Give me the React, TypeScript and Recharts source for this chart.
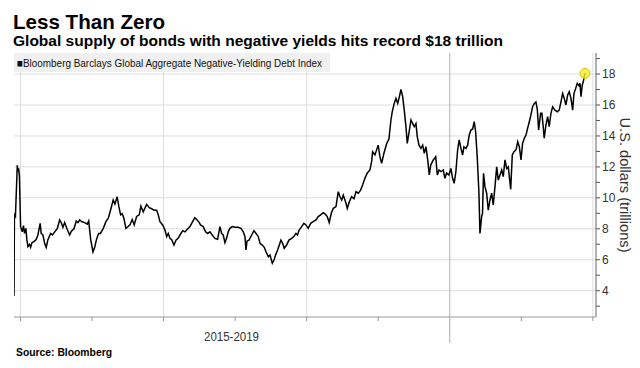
import React from "react";
import { LineChart, Line, XAxis, YAxis, ReferenceLine, ReferenceDot } from "recharts";

// Time as fractional years, values in US$ trillions
const years = [
  2016.955, 2016.958, 2016.965, 2016.978, 2016.983, 2016.987, 2016.993, 2017.001, 2017.013, 2017.021,
  2017.029, 2017.038, 2017.045, 2017.052, 2017.063, 2017.071, 2017.080, 2017.094, 2017.110, 2017.122,
  2017.138, 2017.145, 2017.157, 2017.169, 2017.180, 2017.192, 2017.211, 2017.224, 2017.239, 2017.257,
  2017.274, 2017.285, 2017.297, 2017.309, 2017.325, 2017.344, 2017.356, 2017.374, 2017.390, 2017.402,
  2017.414, 2017.430, 2017.449, 2017.467, 2017.477, 2017.491, 2017.507, 2017.519, 2017.531, 2017.546,
  2017.559, 2017.579, 2017.597, 2017.614, 2017.630, 2017.648, 2017.660, 2017.676, 2017.688, 2017.700,
  2017.711, 2017.723, 2017.737, 2017.753, 2017.765, 2017.781, 2017.795, 2017.812, 2017.830, 2017.842,
  2017.858, 2017.882, 2017.900, 2017.917, 2017.933, 2017.952, 2017.963, 2017.975, 2017.994, 2018.010,
  2018.022, 2018.033, 2018.045, 2018.057, 2018.073, 2018.087, 2018.103, 2018.115, 2018.134, 2018.150,
  2018.166, 2018.185, 2018.203, 2018.219, 2018.231, 2018.250, 2018.258, 2018.277, 2018.294, 2018.308,
  2018.324, 2018.340, 2018.359, 2018.378, 2018.394, 2018.406, 2018.417, 2018.429, 2018.441, 2018.452,
  2018.464, 2018.480, 2018.499, 2018.522, 2018.541, 2018.557, 2018.569, 2018.576, 2018.583, 2018.597,
  2018.616, 2018.632, 2018.646, 2018.662, 2018.674, 2018.690, 2018.704, 2018.716, 2018.732, 2018.744,
  2018.760, 2018.772, 2018.783, 2018.797, 2018.809, 2018.820, 2018.832, 2018.843, 2018.860, 2018.876,
  2018.895, 2018.913, 2018.925, 2018.936, 2018.948, 2018.965, 2018.981, 2018.995, 2019.011, 2019.028,
  2019.046, 2019.065, 2019.081, 2019.098, 2019.116, 2019.130, 2019.144, 2019.158, 2019.172, 2019.186,
  2019.205, 2019.221, 2019.233, 2019.245, 2019.256, 2019.275, 2019.284, 2019.298, 2019.314, 2019.331,
  2019.345, 2019.361, 2019.377, 2019.391, 2019.407, 2019.423, 2019.442, 2019.454, 2019.461, 2019.477,
  2019.489, 2019.500, 2019.512, 2019.524, 2019.540, 2019.559, 2019.575, 2019.589, 2019.598, 2019.612,
  2019.624, 2019.636, 2019.647, 2019.659, 2019.671, 2019.682, 2019.694, 2019.703, 2019.715, 2019.729,
  2019.741, 2019.752, 2019.764, 2019.773, 2019.785, 2019.799, 2019.811, 2019.822, 2019.834, 2019.846,
  2019.857, 2019.867, 2019.885, 2019.902, 2019.913, 2019.925, 2019.939, 2019.955, 2019.966, 2019.978,
  2019.994, 2020.008, 2020.020, 2020.031, 2020.043, 2020.055, 2020.066, 2020.078, 2020.090, 2020.099,
  2020.113, 2020.125, 2020.136, 2020.148, 2020.160, 2020.171, 2020.181, 2020.192, 2020.204, 2020.211,
  2020.223, 2020.229, 2020.236, 2020.246, 2020.258, 2020.269, 2020.281, 2020.293, 2020.304, 2020.316,
  2020.328, 2020.339, 2020.351, 2020.363, 2020.374, 2020.386, 2020.398, 2020.409, 2020.426, 2020.437,
  2020.449, 2020.463, 2020.475, 2020.486, 2020.498, 2020.509, 2020.521, 2020.533, 2020.544, 2020.556,
  2020.567, 2020.579, 2020.591, 2020.602, 2020.612, 2020.621, 2020.635, 2020.644, 2020.653, 2020.660,
  2020.672, 2020.684, 2020.695, 2020.707, 2020.719, 2020.735, 2020.751, 2020.765, 2020.777, 2020.789,
  2020.800, 2020.812, 2020.824, 2020.835, 2020.847, 2020.859, 2020.868, 2020.880, 2020.891, 2020.903,
  2020.910, 2020.917, 2020.926, 2020.933, 2020.945,
];

const values = [
  3.66, 8.9, 8.8, 12.1, 11.7, 11.9, 11.4, 8.14, 7.8, 8.2,
  7.7, 8.03, 7.3, 6.85, 7.0, 6.8, 7.1, 7.17, 7.3, 7.6,
  8.35, 7.7, 7.6, 7.06, 6.8, 7.3, 7.7, 7.6, 7.8, 8.0,
  8.57, 8.4, 8.1, 8.4, 8.0, 7.6, 7.85, 8.0, 8.5, 8.4,
  8.57, 8.45, 8.4, 8.3, 8.5, 7.3, 6.5, 6.8, 7.3, 7.7,
  7.7, 8.03, 8.46, 8.68, 9.21, 9.86, 9.6, 10.07, 9.43, 8.9,
  8.97, 8.68, 8.03, 8.15, 8.25, 8.6, 8.25, 8.8, 8.9, 9.47,
  9.1, 9.58, 9.36, 9.3, 9.2, 9.2, 8.9, 8.46, 8.25, 7.92,
  7.49, 7.7, 7.38, 7.3, 6.95, 7.27, 7.4, 7.6, 7.88, 7.8,
  7.97, 8.14, 8.46, 8.72, 8.6, 8.4, 8.25, 8.14, 7.81, 7.7,
  7.8, 7.6, 7.38, 7.32, 8.14, 7.7, 7.6, 7.1, 7.4, 7.81,
  8.03, 8.14, 8.1, 8.1, 8.03, 7.81, 7.49, 6.63, 7.2, 7.27,
  7.6, 7.88, 7.7, 7.5, 7.06, 6.95, 6.8, 6.52, 6.2, 6.3,
  5.77, 5.98, 6.3, 6.63, 6.95, 7.27, 7.06, 6.74, 6.95, 7.27,
  7.38, 7.53, 7.7, 7.6, 7.92, 8.14, 8.35, 8.25, 8.03, 8.35,
  8.46, 8.57, 8.79, 8.9, 9.04, 8.95, 8.79, 8.4, 9.0, 9.32,
  9.43, 10.4, 10.07, 9.86, 10.18, 9.65, 9.32, 9.75, 10.07, 9.95,
  10.4, 10.3, 10.5, 10.83, 11.26, 11.59, 11.8, 12.34, 12.98, 12.77,
  13.1, 13.4, 12.66, 12.23, 12.88, 13.5, 13.8, 15.03, 15.56, 16.1,
  16.43, 16.1, 16.5, 17.0, 16.54, 15.67, 14.6, 13.52, 14.2, 15.03,
  14.8, 14.6, 14.8, 13.95, 13.4, 13.2, 13.4, 12.88, 13.3, 12.45,
  11.48, 12.12, 12.45, 12.66, 11.48, 11.8, 11.7, 11.8, 11.26, 11.6,
  11.48, 11.9, 11.26, 10.94, 11.7, 13.09, 13.74, 13.2, 12.77, 13.3,
  13.2, 13.4, 14.06, 14.38, 14.45, 14.92, 14.27, 12.66, 10.3, 7.7,
  8.8, 9.0, 11.59, 10.72, 10.3, 9.21, 9.86, 10.3, 9.54, 10.72,
  12.0, 11.15, 11.48, 11.8, 11.37, 12.45, 11.9, 12.0, 10.55, 12.77,
  12.98, 13.1, 13.63, 13.3, 12.45, 13.52, 13.85, 14.06, 14.49, 14.92,
  15.35, 15.89, 16.1, 16.2, 15.7, 14.38, 15.46, 15.46, 14.6, 13.85,
  14.7, 15.25, 14.6, 15.46, 15.89, 15.67, 15.56, 15.67, 16.2, 16.75,
  16.43, 16.0, 16.65, 16.86, 16.43, 15.67, 16.75, 17.07, 17.4, 17.25,
  17.4, 16.54, 17.3, 17.5, 18.04,
];

const xTicks = [
  2017, 2017.25, 2017.5, 2017.75, 2018, 2018.25, 2018.5, 2018.75, 2019, 2019.25, 2019.5, 2019.75,
  2020, 2020.25, 2020.5, 2020.75, 2021,
];
const yearGrid = [2017, 2018, 2019, 2021];
const yearDivider = 2020;
const yTicks = [3, 4, 5, 6, 7, 8, 9, 10, 11, 12, 13, 14, 15, 16, 17, 18, 19];
const yGrid = [4, 6, 8, 10, 12, 14, 16, 18];

const title = "Less Than Zero";
const subtitle = "Global supply of bonds with negative yields hits record $18 trillion";
const legendLabel = "Bloomberg Barclays Global Aggregate Negative-Yielding Debt Index";
const periodLabel = "2015-2019";
const axisLabel = "U.S. dollars (trillions)";
const source = "Source:  Bloomberg";

const data = years.map((t, i) => ({ t, v: values[i] }));
const last = data[data.length - 1];

const FONT = "'Liberation Sans', Arial, sans-serif";

const XTick = (props: any) => {
  const { x, y, payload } = props;
  const long = payload.value === yearDivider;
  return (
    <line x1={x} x2={x} y1={y} y2={y + (long ? 26 : 4)} stroke={long ? "#aaaaaa" : "#999999"} strokeWidth={1} />
  );
};

export default function App() {
  return (
    <div style={{ position: "absolute", left: 0, top: 0, width: 640, height: 368, background: "#fff" }}>
      <LineChart
        width={640}
        height={368}
        data={data}
        margin={{ top: 53, right: 0, bottom: 21, left: 14 }}
      >
        {yGrid.map((g) => (
          <ReferenceLine key={"h" + g} y={g} stroke="#dedede" strokeWidth={1} />
        ))}
        {yearGrid.map((g) => (
          <ReferenceLine key={"v" + g} x={g} stroke="#dedede" strokeWidth={1} />
        ))}
        <ReferenceLine x={yearDivider} stroke="#b0b0b0" />
        <XAxis
          dataKey="t"
          type="number"
          domain={[2016.955, 2021.022]}
          ticks={xTicks}
          tick={<XTick />}
          tickLine={false}
          tickSize={0}
          tickMargin={0}
          height={30}
          axisLine={{ stroke: "#999999" }}
          allowDataOverflow
        />
        <YAxis
          orientation="right"
          type="number"
          domain={[2.3, 19.36]}
          ticks={yTicks}
          tickFormatter={(v: number) => (v % 2 === 0 ? String(v) : "")}
          width={44}
          tickSize={4}
          tickMargin={2}
          tickLine={{ stroke: "#555555" }}
          axisLine={{ stroke: "#999999", strokeWidth: 1.5 }}
          tick={{ fill: "#333333", fontSize: 12, fontFamily: FONT }}
          allowDataOverflow
          interval={0}
        />
        <Line
          type="linear"
          dataKey="v"
          stroke="#000000"
          strokeWidth={1.5}
          dot={false}
          isAnimationActive={false}
        />
        <ReferenceDot
          x={last.t}
          y={last.v}
          r={5}
          fill="#f4ec2c"
          fillOpacity={0.8}
          stroke="#d8c800"
          strokeWidth={1}
        />
      </LineChart>
      <svg
        width={640}
        height={368}
        style={{ position: "absolute", left: 0, top: 0, pointerEvents: "none" }}
      >
        <text x={13} y={29} fontFamily={FONT} fontWeight="bold" fontSize={21} fill="#000" textLength={152} lengthAdjust="spacingAndGlyphs">
          {title}
        </text>
        <text x={13} y={46} fontFamily={FONT} fontWeight="bold" fontSize={14.5} fill="#000" textLength={490} lengthAdjust="spacingAndGlyphs">
          {subtitle}
        </text>
        <rect x={14} y={53} width={316} height={19} fill="#f0f0f0" />
        <text x={17} y={66.5} fontFamily={FONT} fontSize={11.5} fill="#111" textLength={305} lengthAdjust="spacingAndGlyphs">
          {"■" + legendLabel}
        </text>
        <text x={204} y={341} fontFamily={FONT} fontSize={12} fill="#333" textLength={55} lengthAdjust="spacingAndGlyphs">
          {periodLabel}
        </text>
        <text
          transform="translate(620,185) rotate(90)"
          textAnchor="middle"
          fontFamily={FONT}
          fontSize={14.5}
          fill="#333"
          textLength={135}
          lengthAdjust="spacingAndGlyphs"
        >
          {axisLabel}
        </text>
        <text x={16} y={356} fontFamily={FONT} fontWeight="bold" fontSize={10.5} fill="#000" textLength={96} lengthAdjust="spacingAndGlyphs">
          {source}
        </text>
      </svg>
    </div>
  );
}
